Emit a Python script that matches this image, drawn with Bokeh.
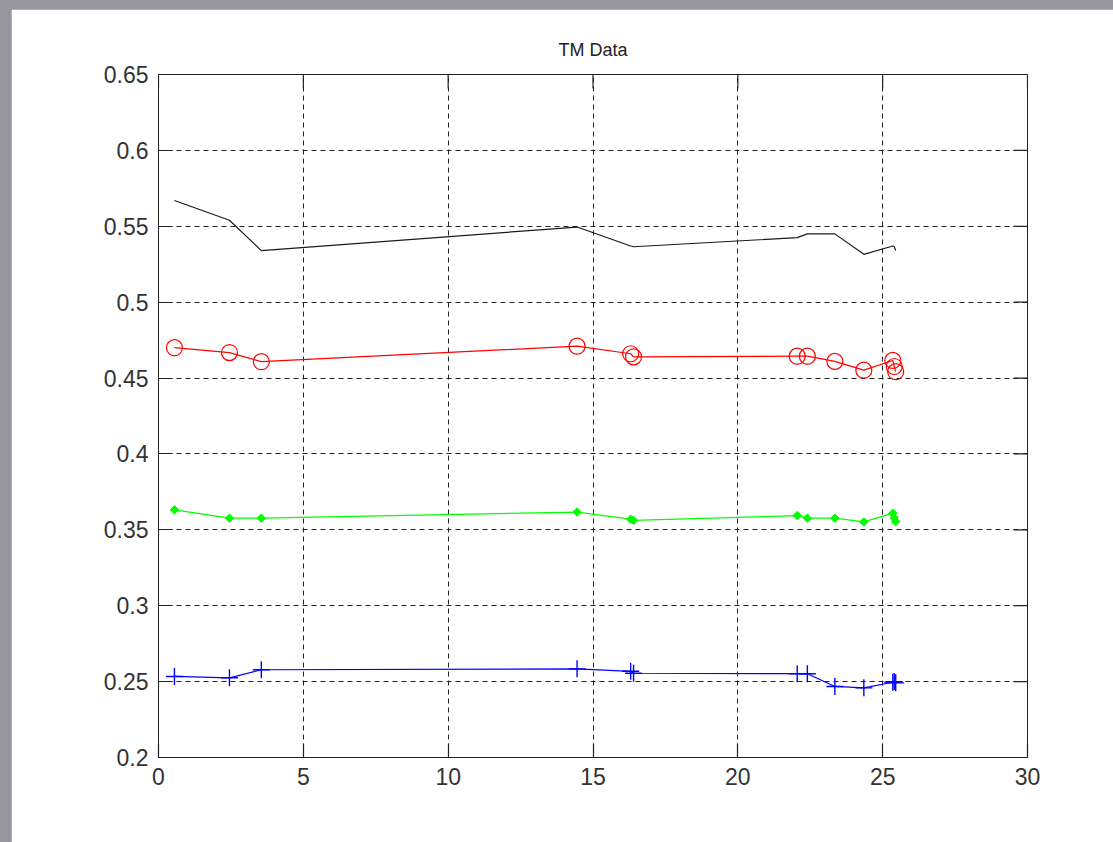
import math
from bokeh.plotting import figure
from bokeh.models import FixedTicker, Range1d
from bokeh.embed import file_html
from bokeh.resources import INLINE

# ---- data ----
x = [0.55, 2.45, 3.55, 14.45, 16.3, 16.4, 22.05, 22.4, 23.35, 24.35, 25.35, 25.4, 25.45]
black_vals = [0.567, 0.554, 0.534, 0.5495, 0.537, 0.5365, 0.5425, 0.545, 0.545, 0.5315, 0.537, 0.5365, 0.534]
red_vals = [0.470, 0.4668, 0.4608, 0.471, 0.466, 0.4640, 0.4644, 0.4644, 0.4610, 0.4552, 0.4616, 0.4576, 0.4542]
green_vals = [0.3632, 0.3577, 0.3577, 0.3617, 0.3570, 0.3562, 0.3594, 0.3577, 0.3577, 0.3552, 0.3610, 0.3580, 0.3555]
blue_vals = [0.2534, 0.2525, 0.2578, 0.2584, 0.2568, 0.2555, 0.2552, 0.2552, 0.2468, 0.2459, 0.2496, 0.2500, 0.2492]

x_ticks = [0, 5, 10, 15, 20, 25, 30]
x_tick_labels = ["0", "5", "10", "15", "20", "25", "30"]
y_ticks = [0.2, 0.25, 0.3, 0.35, 0.4, 0.45, 0.5, 0.55, 0.6, 0.65]
y_tick_labels = ["0.2", "0.25", "0.3", "0.35", "0.4", "0.45", "0.5", "0.55", "0.6", "0.65"]
title_text = "TM Data"

FONT = "Liberation Sans"
INK = "#222222"
TICK = 14

x_min, x_max = x_ticks[0], x_ticks[-1]
y_min, y_max = y_ticks[0], y_ticks[-1]

p = figure(width=1102, height=833,
           x_range=Range1d(x_min, x_max), y_range=Range1d(y_min, y_max),
           output_backend="svg", toolbar_location=None,
           min_border_left=147, min_border_right=86,
           min_border_top=65, min_border_bottom=85)

p.background_fill_color = "white"
p.border_fill_color = "white"
p.outline_line_color = INK
p.outline_line_width = 1

p.title.text = title_text
p.title.align = "center"
p.title.text_font = FONT
p.title.text_font_size = "18px"
p.title.text_font_style = "normal"
p.title.text_color = INK
p.title.standoff = 30

xt = FixedTicker(ticks=x_ticks)
yt = FixedTicker(ticks=y_ticks)

p.xaxis.ticker = xt
p.xaxis.major_label_overrides = {t: s for t, s in zip(x_ticks, x_tick_labels)}
p.yaxis.ticker = yt
p.yaxis.major_label_overrides = {t: s for t, s in zip(y_ticks, y_tick_labels)}

for ax in p.axis:
    ax.major_tick_in = TICK
    ax.major_tick_out = 0
    ax.minor_tick_in = 0
    ax.minor_tick_out = 0
    ax.major_tick_line_color = INK
    ax.major_tick_line_width = 1.2
    ax.axis_line_color = INK
    ax.major_label_text_font = FONT
    ax.major_label_text_color = "#333333"
    ax.major_label_text_font_size = "23px"
    ax.major_label_standoff = 10

for g in (p.xgrid, p.ygrid):
    g.grid_line_color = INK
    g.grid_line_alpha = 1
    g.grid_line_dash = "5 4"
    g.grid_line_width = 1
p.xgrid.ticker = xt
p.ygrid.ticker = yt

# inward ticks on the top and right edges of the box (half of each dash is clipped by the frame)
p.scatter([x_max] * len(y_ticks), y_ticks, marker="dash", size=2 * TICK,
          line_color=INK, line_width=1.2)
p.scatter(x_ticks, [y_max] * len(x_ticks), marker="dash", angle=math.pi / 2,
          size=2 * TICK, line_color=INK, line_width=1.2)

# black series (line only)
p.line(x, black_vals, line_color="#1a1a1a", line_width=1.2)

# red series with open circles
p.line(x, red_vals, line_color="#ff0000", line_width=1.2)
p.scatter(x, red_vals, marker="circle", size=16, fill_color=None,
          line_color="#ff0000", line_width=1.2)

# green series with filled diamonds
p.line(x, green_vals, line_color="#00ff00", line_width=1.2)
p.scatter(x, green_vals, marker="square", angle=math.pi / 4, size=6,
          fill_color="#00ff00", line_color="#00ff00", line_width=1)

# blue series with plus markers
p.line(x, blue_vals, line_color="#0000ff", line_width=1.2)
p.scatter(x, blue_vals, marker="cross", size=17, line_color="#0000ff", line_width=1.4)

html = file_html(p, INLINE)
html = html.replace(
    "</head>",
    "<style>html,body{margin:0 !important;background:#98969e;overflow:hidden;}"
    "body{padding:9px 0 0 11px !important;box-sizing:border-box;}</style></head>", 1)
open("out.html", "w").write(html)
